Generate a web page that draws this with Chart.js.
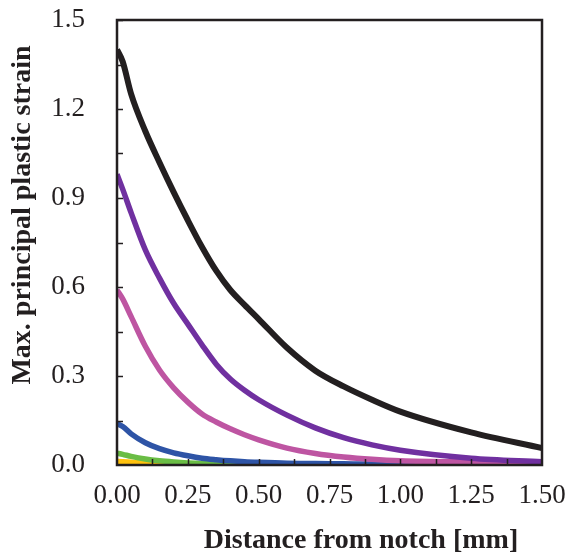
<!DOCTYPE html>
<html>
<head>
<meta charset="utf-8">
<script src="https://cdn.jsdelivr.net/npm/chart.js@4/dist/chart.umd.min.js"></script>
<style>
  html, body { margin: 0; padding: 0; background: #fff; }
  #wrap { width: 565px; height: 556px; }
</style>
</head>
<body>
<div id="wrap"><canvas id="c" width="565" height="556"></canvas></div>
<script>
// distance from notch [mm], shared by every curve
const distance = [0, 0.02, 0.05, 0.1, 0.15, 0.2, 0.25, 0.3, 0.35, 0.4, 0.45, 0.5, 0.6, 0.7, 0.8, 0.9, 1.0, 1.25, 1.5];

const strainBlack  = [1.40, 1.36, 1.25, 1.125, 1.02, 0.92, 0.825, 0.735, 0.655, 0.59, 0.54, 0.492, 0.395, 0.318, 0.265, 0.22, 0.18, 0.11, 0.057];
const strainPurple = [0.98, 0.93, 0.85, 0.725, 0.63, 0.545, 0.475, 0.405, 0.34, 0.29, 0.252, 0.22, 0.168, 0.125, 0.092, 0.068, 0.05, 0.023, 0.011];
const strainPink   = [0.59, 0.56, 0.50, 0.40, 0.32, 0.26, 0.212, 0.172, 0.145, 0.122, 0.102, 0.085, 0.057, 0.039, 0.027, 0.019, 0.014, 0.010, 0.008];
const strainBlue   = [0.14, 0.13, 0.105, 0.075, 0.055, 0.041, 0.031, 0.023, 0.018, 0.014, 0.011, 0.009, 0.006, 0.005, 0.004, 0.003, 0.003, 0.002, 0.002];
const strainGreen  = [0.04, 0.036, 0.029, 0.02, 0.014, 0.01, 0.007, 0.005, 0.004, 0.003, 0.002, 0.002, 0.001, 0.001, 0.001, 0, 0, 0, 0];
const strainYellow = [0.012, 0.011, 0.009, 0.006, 0.004, 0.002, 0.001, 0, 0, 0, 0, 0, 0, 0, 0, 0, 0, 0, 0];

const yTicks = [0.0, 0.3, 0.6, 0.9, 1.2, 1.5];
const xTicks = [0.0, 0.25, 0.5, 0.75, 1.0, 1.25, 1.5];

const xTitle = 'Distance from notch [mm]';
const yTitle = 'Max. principal plastic strain';

const series = [
  { data: strainBlack,  color: '#231f20', width: 6 },
  { data: strainPurple, color: '#7030a0', width: 5.5 },
  { data: strainPink,   color: '#be55a2', width: 5.5 },
  { data: strainBlue,   color: '#2e54a6', width: 5.5 },
  { data: strainGreen,  color: '#6abd45', width: 5.5 },
  { data: strainYellow, color: '#ffc20e', width: 5.5 }
];

const toPoints = (ys) => ys.map((y, i) => ({ x: distance[i], y: y }));

const serif = '"Liberation Serif", "Times New Roman", serif';
const tickFont = { family: serif, size: 27 };

// drop the label overhang so the plot box sits where the padding says
const noOverhang = (scale) => {
  scale.paddingTop = 0;
  scale.paddingBottom = 0;
  scale.paddingLeft = 0;
  scale.paddingRight = 0;
};

// box around the plot, inside ticks, and the two axis titles
const frame = {
  id: 'frame',
  afterDatasetsDraw(chart) {
    const { ctx, chartArea: a, scales } = chart;
    ctx.save();
    ctx.strokeStyle = '#231f20';
    ctx.lineWidth = 2.5;
    ctx.strokeRect(a.left, a.top, a.right - a.left, a.bottom - a.top);

    ctx.lineWidth = 1.5;
    ctx.beginPath();
    for (let v = 0.15; v < 1.5; v += 0.15) {
      const py = Math.round(scales.y.getPixelForValue(v)) + 0.5;
      ctx.moveTo(a.left, py);
      ctx.lineTo(a.left + 6, py);
    }
    for (let v = 0.125; v < 1.5; v += 0.125) {
      const px = Math.round(scales.x.getPixelForValue(v)) + 0.5;
      ctx.moveTo(px, a.bottom);
      ctx.lineTo(px, a.bottom - 6);
    }
    ctx.stroke();

    ctx.fillStyle = '#231f20';
    ctx.font = 'bold 28px ' + serif;
    ctx.textAlign = 'center';
    ctx.textBaseline = 'middle';
    ctx.fillText(xTitle, a.left + 244, 541);

    ctx.translate(23, 215);
    ctx.rotate(-Math.PI / 2);
    ctx.fillText(yTitle, 0, 0);
    ctx.restore();
  }
};

new Chart(document.getElementById('c'), {
  type: 'scatter',
  data: {
    datasets: series.map((s) => ({
      data: toPoints(s.data),
      showLine: true,
      borderColor: s.color,
      borderWidth: s.width,
      pointRadius: 0,
      cubicInterpolationMode: 'monotone',
      borderCapStyle: 'butt'
    }))
  },
  options: {
    responsive: false,
    animation: false,
    events: [],
    layout: { padding: { top: 20, right: 23, left: 0, bottom: 0 } },
    plugins: { legend: { display: false }, tooltip: { enabled: false } },
    scales: {
      x: {
        type: 'linear',
        min: 0,
        max: 1.5,
        afterBuildTicks: (scale) => { scale.ticks = xTicks.map((v) => ({ value: v })); },
        afterFit: (scale) => { scale.height = 91; noOverhang(scale); },
        grid: { display: false, drawTicks: false },
        border: { display: false },
        ticks: {
          font: tickFont,
          color: '#231f20',
          padding: 15,
          maxRotation: 0,
          callback: (v) => Number(v).toFixed(2)
        }
      },
      y: {
        type: 'linear',
        min: 0,
        max: 1.5,
        afterBuildTicks: (scale) => { scale.ticks = yTicks.map((v) => ({ value: v })); },
        afterFit: (scale) => { scale.width = 117; noOverhang(scale); },
        grid: { display: false, drawTicks: false },
        border: { display: false },
        ticks: {
          font: tickFont,
          color: '#231f20',
          padding: 32,
          callback: (v) => Number(v).toFixed(1)
        }
      }
    }
  },
  plugins: [frame]
});
</script>
</body>
</html>
